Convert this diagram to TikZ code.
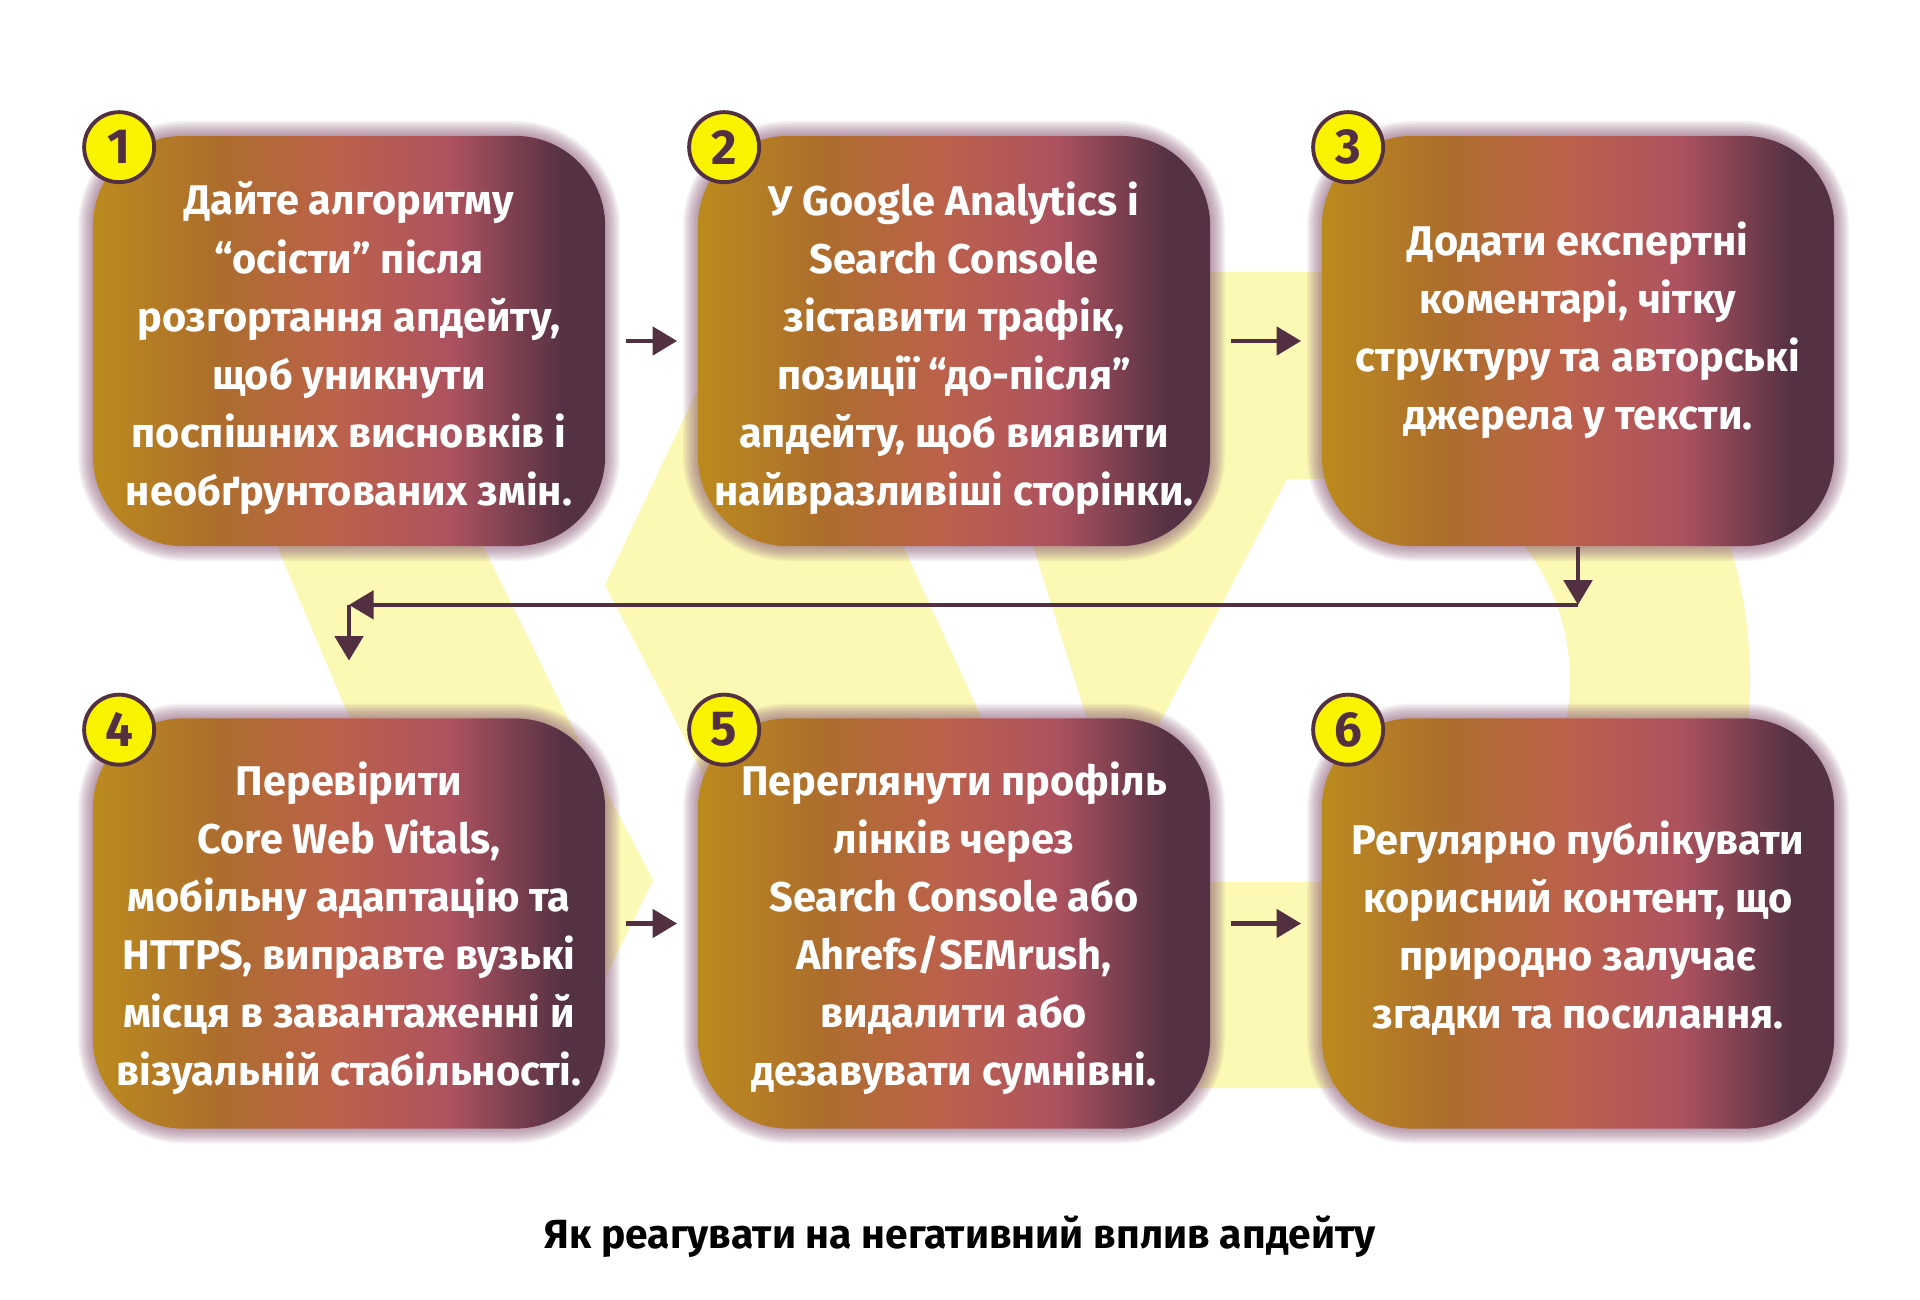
\documentclass[tikz,border=0pt]{standalone}
\usepackage{fontspec}
\setmainfont{Fira Sans}
\usetikzlibrary{arrows.meta}

\definecolor{stGold}{RGB}{187,139,30}
\definecolor{stBrown}{RGB}{173,110,44}
\definecolor{stRust}{RGB}{188,97,75}
\definecolor{stRose}{RGB}{173,82,95}
\definecolor{stPlum}{RGB}{84,49,67}
\definecolor{lineplum}{RGB}{83,48,65}
\definecolor{logoyellow}{RGB}{251,249,180}
\definecolor{badgeyellow}{RGB}{249,243,0}
\definecolor{glowpink}{RGB}{140,90,120}

\pgfdeclarehorizontalshading{stepfade}{100bp}{color(0bp)=(stGold); color(25bp)=(stGold); color(37bp)=(stBrown); color(49bp)=(stRust); color(60bp)=(stRose); color(71bp)=(stPlum); color(100bp)=(stPlum)}

\tikzset{
  stepbox/.style={shade, shading=stepfade, rounded corners=0.9cm,
    minimum width=5.12cm, minimum height=4.1cm, inner sep=0pt},
  glow/.style={draw=glowpink, draw opacity=.08, rounded corners=0.9cm},
  steptext/.style={align=center, text=white, inner sep=0pt,
    font=\bfseries\fontsize{11.8}{16.5}\selectfont},
  badge/.style={circle, fill=badgeyellow, draw=lineplum, line width=1.1pt,
    minimum size=0.7cm, inner sep=0pt, text=lineplum,
    font=\bfseries\fontsize{14}{14}\selectfont},
  flow/.style={draw=lineplum, line width=1.3pt, -{Triangle[length=7pt,width=8pt]}},
  logo/.style={fill=logoyellow}
}

\begin{document}
\begin{tikzpicture}[x=0.01cm, y=-0.01cm]
\def\xa{349}
\def\xb{954}
\def\xc{1578}
\def\ya{341}
\def\yb{923.5}

\useasboundingbox (0,0) rectangle (1920,1300);
\fill[white] (0,0) rectangle (1920,1300);

\fill[logo] (194,380) -- (400,380) -- (483,546) -- (568,719) -- (653,880) -- (560,1070) -- (400,1070) -- (350,719) -- (277,546) -- cycle;
\fill[logo] (770,240) -- (800,320) -- (903,546) -- (982,719) -- (1042,850) -- (740,850) -- (675,719) -- (605,585) -- (695,395) -- cycle;
\fill[logo] (900,272) -- (1390,272) arc[start angle=-90, end angle=90, x radius=360, y radius=408] -- (900,1088) -- (900,882) -- (1390,882) arc[start angle=90, end angle=-90, x radius=180, y radius=201.5] -- (1287,479) -- (1117,805) -- (1087,719) -- (1033,546) -- (1012,479) -- (900,479) -- cycle;

\foreach \x in {\xa,\xb,\xc}
  \foreach \y in {\ya,\yb}
    \foreach \w in {3,6,...,30}
      \draw[glow, line width=\w*0.01cm] (\x-256,\y-205) rectangle (\x+256,\y+205);

\node[stepbox] (s1) at (\xa, \ya) {};
\node[stepbox] (s2) at (\xb, \ya) {};
\node[stepbox] (s3) at (\xc, \ya) {};
\node[stepbox] (s4) at (\xa, \yb) {};
\node[stepbox] (s5) at (\xb, \yb) {};
\node[stepbox] (s6) at (\xc, \yb) {};

\node[steptext] (t1) at ([yshift=-0.07cm]s1.center) {Дайте алгоритму\\“осісти” після\\розгортання апдейту,\\щоб уникнути\\поспішних висновків і\\необґрунтованих змін.};
\node[steptext] (t2) at ([yshift=-0.07cm]s2.center) {У Google Analytics і\\Search Console\\зіставити трафік,\\позиції “до-після”\\апдейту, щоб виявити\\найвразливіші сторінки.};
\node[steptext] (t3) at ([yshift=0.11cm]s3.center) {Додати експертні\\коментарі, чітку\\структуру та авторські\\джерела у тексти.};
\node[steptext] (t4) at ([yshift=-0.05cm]s4.center) {Перевірити\\Core Web Vitals,\\мобільну адаптацію та\\HTTPS, виправте вузькі\\місця в завантаженні й\\візуальній стабільності.};
\node[steptext] (t5) at ([yshift=-0.05cm]s5.center) {Переглянути профіль\\лінків через\\Search Console або\\Ahrefs/SEMrush,\\видалити або\\дезавувати сумнівні.};
\node[steptext] (t6) at ([yshift=-0.05cm]s6.center) {Регулярно публікувати\\корисний контент, що\\природно залучає\\згадки та посилання.};

\node[badge] (n1) at ([shift={(27,12)}]s1.north west) {1};
\node[badge] (n2) at ([shift={(27,12)}]s2.north west) {2};
\node[badge] (n3) at ([shift={(27,12)}]s3.north west) {3};
\node[badge] (n4) at ([shift={(27,12)}]s4.north west) {4};
\node[badge] (n5) at ([shift={(27,12)}]s5.north west) {5};
\node[badge] (n6) at ([shift={(27,12)}]s6.north west) {6};

\draw[flow] ([xshift=0.2cm]s1.east) -- ([xshift=-0.2cm]s2.west);
\draw[flow] ([xshift=0.2cm]s2.east) -- ([xshift=-0.2cm]s3.west);
\draw[flow] ([xshift=0.2cm]s4.east) -- ([xshift=-0.2cm]s5.west);
\draw[flow] ([xshift=0.2cm]s5.east) -- ([xshift=-0.2cm]s6.west);

\coordinate (r) at ([yshift=-0.58cm]s3.south);
\coordinate (l) at (s4.north |- r);
\coordinate (d) at ([yshift=0.57cm]s4.north);
\draw[flow] (s3.south) -- (r);
\draw[flow] (r) -- (l);
\draw[flow] (l) -- (d);

\node[font=\bfseries\fontsize{11.6}{12}\selectfont] (caption) at (960,1237) {Як реагувати на негативний вплив апдейту};
\end{tikzpicture}
\end{document}
